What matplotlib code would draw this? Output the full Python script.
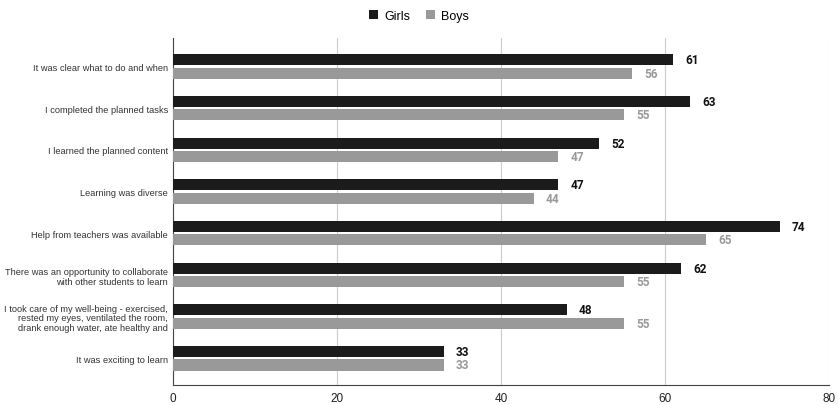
import numpy as np
import matplotlib.pyplot as plt

plt.rcParams['font.family'] = ['Liberation Sans', 'DejaVu Sans']

questions = [
    "It was clear what to do and when",
    "I completed the planned tasks",
    "I learned the planned content",
    "Learning was diverse",
    "Help from teachers was available",
    "There was an opportunity to collaborate\nwith other students to learn",
    "I took care of my well-being - exercised,\nrested my eyes, ventilated the room,\ndrank enough water, ate healthy and",
    "It was exciting to learn",
]
girls = [61, 63, 52, 47, 74, 62, 48, 33]
boys = [56, 55, 47, 44, 65, 55, 55, 33]

girls_color = "#1b1b1b"
boys_color = "#999999"

fig = plt.figure(figsize=(8.38, 4.06), dpi=100)
# axes spans x 173..829, y 39..386 px
ax = fig.add_axes([173/838, (406-386)/406, 656/838, 347/406])

y = np.arange(len(questions))
h = 0.265
off = 0.16
ax.barh(y - off, girls, height=h, color=girls_color, label="Girls", zorder=3)
ax.barh(y + off, boys, height=h, color=boys_color, label="Boys", zorder=3)

for yi, g, b in zip(y, girls, boys):
    ax.text(g + 1.5, yi - off, str(g), va="center", ha="left",
            fontsize=8.5, fontweight="bold", color="#111111",
            family=["Roboto", "DejaVu Sans"])
    ax.text(b + 1.5, yi + off, str(b), va="center", ha="left",
            fontsize=8.5, fontweight="bold", color="#999999",
            family=["Roboto", "DejaVu Sans"])

ax.set_xlim(0, 80)
ax.set_ylim(7.64, -0.68)
ax.set_xticks([0, 20, 40, 60, 80])
ax.set_yticks(y)
ax.set_yticklabels(questions, fontsize=6.7, color="#333333", linespacing=1.1)
ax.tick_params(axis="x", labelsize=8.5, length=0, pad=5, colors="#222222")
ax.tick_params(axis="y", length=0, pad=3.6)
ax.grid(axis="x", color="#cccccc", linewidth=0.8, zorder=0)
for s in ["top", "right"]:
    ax.spines[s].set_visible(False)
ax.spines["left"].set_color("#444444")
ax.spines["bottom"].set_color("#444444")

fig.legend(loc="upper center", bbox_to_anchor=(0.5, 1.0), ncol=2, frameon=False,
           fontsize=9, handlelength=0.75, handleheight=0.75, columnspacing=1.2,
           handletextpad=0.5)

fig.savefig("out.png", dpi=100)
